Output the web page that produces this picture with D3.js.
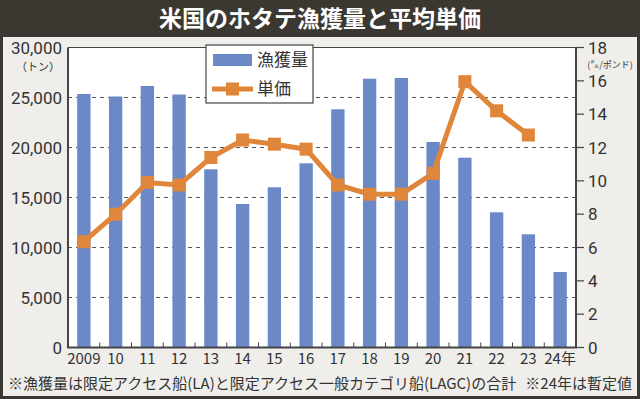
<!DOCTYPE html>
<html><head><meta charset="utf-8">
<script src="https://cdn.jsdelivr.net/npm/d3@7"></script>
<style>body{margin:0;background:#3b3832;}svg{display:block;}text{font-family:"Noto Sans CJK JP","Noto Sans",sans-serif;}text.num{font-family:Roboto,"Noto Sans",sans-serif;}</style>
</head><body>
<script>
const years = ["2009","10","11","12","13","14","15","16","17","18","19","20","21","22","23","24年"];
const catch_t = [25350,25100,26150,25300,17820,14350,16020,18420,23820,26880,26950,20550,18980,13520,11320,7550];
const price = [6.35,8.0,9.9,9.75,11.4,12.45,12.2,11.9,9.75,9.2,9.2,10.45,15.95,14.2,12.75,null];
const leftTicks = [0,5000,10000,15000,20000,25000,30000];
const rightTicks = [0,2,4,6,8,10,12,14,16,18];

const W=640,H=399;
const svg=d3.select("body").append("svg").attr("width",W).attr("height",H);
const m={l:68,r:576,t:47.5,b:347.5};
// frame
svg.append("rect").attr("width",W).attr("height",H).attr("fill","#3b3832");
svg.append("rect").attr("x",3).attr("y",37).attr("width",W-6).attr("height",H-40).attr("fill","#efeeeb");
svg.append("text").attr("x",320).attr("y",27).attr("text-anchor","middle").attr("fill","#fff")
  .attr("font-size",23).attr("font-weight","bold").text("米国のホタテ漁獲量と平均単価");
svg.append("rect").attr("x",m.l).attr("y",m.t).attr("width",m.r-m.l).attr("height",m.b-m.t).attr("fill","#fff");

const x=d3.scaleBand().domain(years).range([m.l,m.r]).paddingInner(0.58).paddingOuter(0.29);
const xb=d3.scaleBand().domain(years).range([m.l,m.r]);
const yL=d3.scaleLinear().domain([0,30000]).range([m.b,m.t]);
const yR=d3.scaleLinear().domain([0,18]).range([m.b,m.t]);

// grid
svg.append("g").selectAll("line").data(leftTicks.filter(d=>d>0&&d<30000)).join("line")
  .attr("x1",m.l).attr("x2",m.r).attr("y1",d=>yL(d)).attr("y2",d=>yL(d))
  .attr("stroke","#555").attr("stroke-width",1).attr("stroke-dasharray","4,4");

// bars
svg.append("g").selectAll("rect").data(catch_t).join("rect")
  .attr("x",(d,i)=>x(years[i])).attr("width",x.bandwidth())
  .attr("y",d=>yL(d)).attr("height",d=>m.b-yL(d)).attr("fill","#6a89c6");

// inner ticks between bars
svg.append("g").selectAll("line").data(years.slice(1)).join("line")
  .attr("x1",d=>xb(d)).attr("x2",d=>xb(d)).attr("y1",m.b).attr("y2",m.b-5)
  .attr("stroke","#444").attr("stroke-width",1);

// frame lines
svg.append("line").attr("x1",m.l).attr("x2",m.r).attr("y1",m.t).attr("y2",m.t).attr("stroke","#444").attr("stroke-width",1);
svg.append("line").attr("x1",m.l).attr("x2",m.l).attr("y1",m.t).attr("y2",m.b).attr("stroke","#444").attr("stroke-width",2);
svg.append("line").attr("x1",m.r).attr("x2",m.r).attr("y1",m.t).attr("y2",m.b).attr("stroke","#444").attr("stroke-width",2);
svg.append("line").attr("x1",m.l-1).attr("x2",m.r+1).attr("y1",m.b).attr("y2",m.b).attr("stroke","#444").attr("stroke-width",2);

// left axis labels
svg.append("g").selectAll("text").data(leftTicks).join("text").attr("class","num")
  .attr("x",62).attr("y",d=>yL(d)+6).attr("text-anchor","end").attr("font-size",17).attr("fill","#333")
  .text(d=>d3.format(",")(d));
svg.append("text").attr("x",38).attr("y",71).attr("text-anchor","middle").attr("font-size",11).attr("fill","#333").text("（トン）");

// right axis
svg.append("g").selectAll("line").data(rightTicks).join("line")
  .attr("x1",m.r).attr("x2",m.r+8).attr("y1",d=>yR(d)).attr("y2",d=>yR(d)).attr("stroke","#444").attr("stroke-width",1.2);
svg.append("g").selectAll("text").data(rightTicks).join("text").attr("class","num")
  .attr("x",588).attr("y",d=>yR(d)+6).attr("font-size",17).attr("fill","#333").text(d=>d);
svg.append("text").attr("x",610).attr("y",68).attr("text-anchor","middle").attr("font-size",9).attr("fill","#333").text("(㌦/ポンド)");

// x labels
svg.append("g").selectAll("text").data(years).join("text")
  .attr("x",d=>xb(d)+xb.bandwidth()/2).attr("y",364).attr("text-anchor","middle").attr("font-size",15).attr("fill","#333")
  .text(d=>d);

// line
const pts=price.map((v,i)=>[years[i],v]).filter(d=>d[1]!=null);
const line=d3.line().x(d=>xb(d[0])+xb.bandwidth()/2).y(d=>yR(d[1]));
const orange="#e0863a";
svg.append("path").datum(pts).attr("d",line).attr("fill","none").attr("stroke",orange).attr("stroke-width",5);
svg.append("g").selectAll("rect").data(pts).join("rect")
  .attr("x",d=>xb(d[0])+xb.bandwidth()/2-6.5).attr("y",d=>yR(d[1])-6.5).attr("width",13).attr("height",13).attr("fill",orange);

// legend
const lg=svg.append("g");
lg.append("rect").attr("x",206).attr("y",45).attr("width",107).attr("height",58).attr("fill","#fff").attr("stroke","#444").attr("stroke-width",1.2);
lg.append("rect").attr("x",213).attr("y",54).attr("width",39).attr("height",12).attr("fill","#6a89c6");
lg.append("text").attr("x",257).attr("y",66).attr("font-size",17).attr("fill","#333").text("漁獲量");
lg.append("line").attr("x1",212).attr("x2",253).attr("y1",89).attr("y2",89).attr("stroke",orange).attr("stroke-width",5);
lg.append("rect").attr("x",226).attr("y",82.5).attr("width",13).attr("height",13).attr("fill",orange);
lg.append("text").attr("x",257).attr("y",95).attr("font-size",17).attr("fill","#333").text("単価");

// footnote
svg.append("text").attr("x",8).attr("y",389).attr("font-size",15).attr("fill","#333")
  .text("※漁獲量は限定アクセス船(LA)と限定アクセス一般カテゴリ船(LAGC)の合計");
svg.append("text").attr("x",632).attr("y",389).attr("text-anchor","end").attr("font-size",15).attr("fill","#333")
  .text("※24年は暫定値");
</script>
</body></html>
